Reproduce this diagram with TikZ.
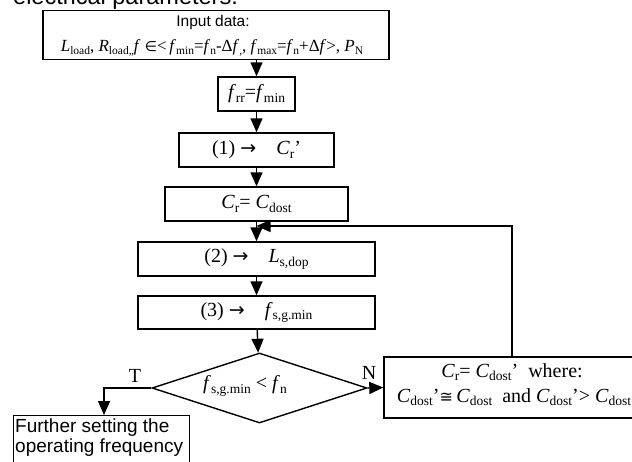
\documentclass[tikz,border=0pt]{standalone}
\usepackage{fontspec}
\setmainfont{Liberation Serif}
\newfontfamily\arial{Liberation Sans}
\newfontfamily\symf{DejaVu Sans}
\usetikzlibrary{arrows.meta,shapes.geometric}
\newcommand\ssb[1]{\raisebox{-3.5pt}{\fontsize{13.5}{14}\selectfont #1}}
\newcommand\ssbs[1]{\raisebox{-3pt}{\fontsize{11.5}{12}\selectfont #1}}
\newcommand\sy[1]{{\symf\fontsize{19}{20}\selectfont #1}}
\tikzset{
  box/.style={draw, line width=1.4pt, inner sep=0pt, align=center, font=\fontsize{20}{25}\selectfont},
  arr/.style={line width=1.4pt, -{Triangle[length=14pt,width=12pt]}},
  lbl/.style={inner sep=0pt, font=\fontsize{20}{24}\selectfont},
}
\begin{document}
\begin{tikzpicture}[x=1pt,y=-1pt]
\useasboundingbox (0,0) rectangle (632,461);
\node[anchor=base west, inner sep=0pt, font=\arial\fontsize{23.5}{26}\selectfont] (top) at (13,4) {electrical parameters.};
\node[box, minimum width=346pt, minimum height=49pt] (in) at (216,35) {};
\node[inner sep=0pt, font=\arial\fontsize{15.5}{18}\selectfont] (int) at (213,22) {Input data:};
\node[inner sep=0pt, font=\fontsize{17}{20}\selectfont] (in2) at (212,48) {\textit{L}\ssbs{load}, \textit{R}\ssbs{load,,}\textit{f} {\symf\fontsize{14}{16}\selectfont ∈}<\,\textit{f}\ssbs{min}=\textit{f}\ssbs{n}-Δ\textit{f}\ssbs{,}, \textit{f}\ssbs{max}=\textit{f}\ssbs{n}+Δ\textit{f}>, \textit{P}\ssbs{N}};
\node[box, minimum width=77pt, minimum height=34pt] (frr) at (256.5,94) {\textit{f}\ssb{rr}=\textit{f}\ssb{min}};
\node[box, minimum width=155pt, minimum height=34pt] (c1) at (256.5,150) {(1) \sy{→}\quad\textit{C}\ssb{r}’};
\node[box, minimum width=183pt, minimum height=34pt] (c2) at (256.5,204) {\textit{C}\ssb{r}= \textit{C}\ssb{dost}};
\node[box, minimum width=237pt, minimum height=34pt] (l2) at (256.5,259) {(2) \sy{→}\quad\textit{L}\ssb{s,dop}};
\node[box, minimum width=237pt, minimum height=33pt] (f3) at (256.5,312.5) {(3) \sy{→}\quad\textit{f}\ssb{s,g.min}};
\node[draw, line width=1.4pt, diamond, inner sep=0pt, minimum width=215pt, minimum height=70pt] (d) at (259.5,388) {};
\node[lbl] (dt) at (245,386) {\textit{f}\ssb{s,g.min} < \textit{f}\ssb{n}};
\node[box, minimum width=256pt, minimum height=61pt] (rb) at (512,387.5) {};
\node[lbl] (rb1) at (512,372) {\textit{C}\ssb{r}= \textit{C}\ssb{dost}’\ \ where:};
\node[lbl] (rb2) at (514,397) {\textit{C}\ssb{dost}’{\symf\fontsize{16}{20}\selectfont ≅}\,\textit{C}\ssb{dost}\ \ and \textit{C}\ssb{dost}’> \textit{C}\ssb{dost}};
\node[draw, line width=1.4pt, anchor=north west, minimum width=176pt, minimum height=60pt, inner sep=0pt] (fb) at (13,415) {};
\node[anchor=north west, inner sep=0pt, align=left, font=\arial\fontsize{19}{19.5}\selectfont] (fbt) at (15,419) {Further setting the\\operating frequency};
\node[lbl] (T) at (135,376) {T};
\node[lbl] (N) at (369,373) {N};
\coordinate (fbk) at (256.5,226);
\coordinate (tc) at (104,388);
\draw[arr] (in.south -| frr) -- (frr);
\draw[arr] (frr) -- (c1);
\draw[arr] (c1) -- (c2);
\draw[arr] (c2) -- (l2);
\draw[arr] (l2) -- (f3);
\draw[arr] (f3) -- (d);
\draw[arr] (rb.north) |- (fbk);
\draw[arr] (d.east) -- (rb.west);
\draw[arr] (d.west) -- (tc) -- (tc |- fb.north);
\end{tikzpicture}
\end{document}
